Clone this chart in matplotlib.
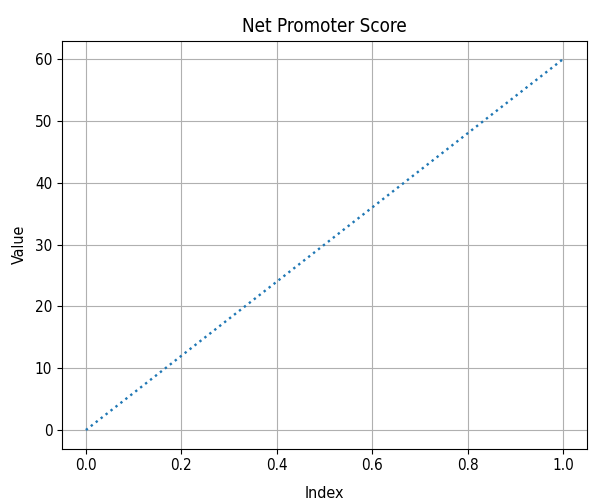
import matplotlib
matplotlib.use('Agg')
import matplotlib.pyplot as plt

plt.rcParams['font.family'] = ['DejaVu Sans']
plt.rcParams['font.stretch'] = 'condensed'

index = [0, 1]
values = [0, 60]

fig = plt.figure(figsize=(5.89, 5.04), dpi=100)
ax = fig.add_axes([0.1053, 0.110, 0.8913, 0.8096])
ax.plot(index, values, linestyle=':', linewidth=1.7)
ax.set_title('Net Promoter Score', fontsize=13.5)
ax.set_xlabel('Index', fontsize=11.5, labelpad=9)
ax.set_ylabel('Value', fontsize=11.5, labelpad=6)
ax.tick_params(labelsize=11)
ax.grid(True)

fig.savefig('out.png', dpi=100)
